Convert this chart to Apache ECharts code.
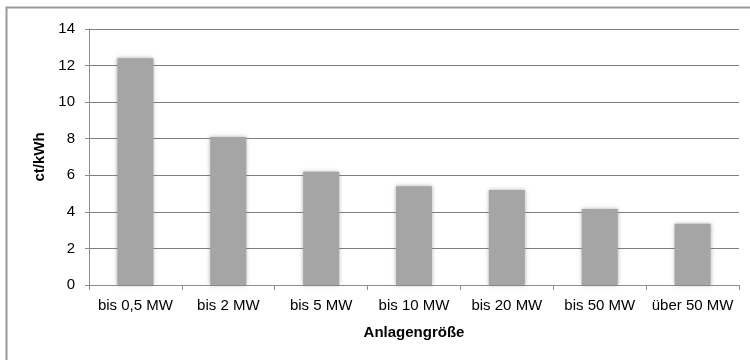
<!DOCTYPE html>
<html><head><meta charset="utf-8">
<script src="https://cdn.jsdelivr.net/npm/echarts@6/dist/echarts.min.js"></script>
<style>html,body{margin:0;padding:0;background:#fff}#c{width:750px;height:360px}</style>
</head><body><div id="c"></div>
<script>
var categories = ['bis 0,5 MW','bis 2 MW','bis 5 MW','bis 10 MW','bis 20 MW','bis 50 MW','über 50 MW'];
var values = [12.4, 8.1, 6.2, 5.4, 5.2, 4.15, 3.35];
var yTicks = [0, 2, 4, 6, 8, 10, 12, 14];
var yName = 'ct/kWh';
var xName = 'Anlagengröße';

var chart = echarts.init(document.getElementById('c'));
var font = 'Liberation Sans, Arial, sans-serif';
chart.setOption({
  animation: false,
  backgroundColor: '#fff',
  graphic: [{
    type: 'polyline', silent: true,
    shape: { points: [[6.5, 400], [6.5, 7.5], [800, 7.5]] },
    style: { stroke: '#9a9a9a', lineWidth: 2, fill: null }
  }],
  grid: { left: 89, right: 11, top: 29, bottom: 75, containLabel: false },
  xAxis: {
    type: 'category', data: categories,
    name: xName, nameLocation: 'middle', nameGap: 40,
    nameTextStyle: { fontFamily: font, fontSize: 15, fontWeight: 'bold', color: '#000' },
    axisLine: { lineStyle: { color: '#8c8c8c', width: 1 } },
    axisTick: { show: true, alignWithLabel: false, length: 5, lineStyle: { color: '#8c8c8c' } },
    axisLabel: { fontFamily: font, fontSize: 15, color: '#000', margin: 13, interval: 0 }
  },
  yAxis: {
    type: 'value', min: yTicks[0], max: yTicks[yTicks.length - 1], interval: 2,
    name: yName, nameLocation: 'middle', nameGap: 38, nameRotate: 90,
    nameTextStyle: { fontFamily: font, fontSize: 15, fontWeight: 'bold', color: '#000' },
    axisLine: { show: true, lineStyle: { color: '#8c8c8c', width: 1 } },
    axisTick: { show: true, length: 4, lineStyle: { color: '#8c8c8c' } },
    axisLabel: { fontFamily: font, fontSize: 15, color: '#000', margin: 14 },
    splitLine: { lineStyle: { color: '#7f7f7f', width: 1 } }
  },
  series: [{
    type: 'bar', data: values, barWidth: 36,
    itemStyle: { color: '#a5a5a5', shadowColor: 'rgba(120,120,120,0.6)', shadowBlur: 4 }
  }]
});
</script></body></html>
